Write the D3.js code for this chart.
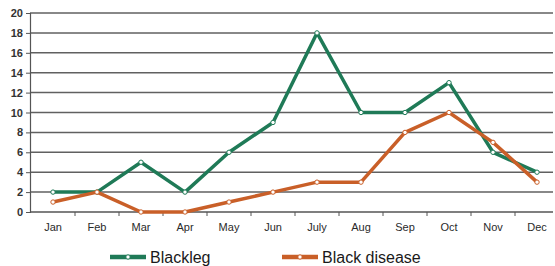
<!DOCTYPE html>
<html>
<head>
<meta charset="utf-8">
<script src="https://cdn.jsdelivr.net/npm/d3@7"></script>
<style>
  body { margin: 0; background: #fff; }
  svg { display: block; font-family: "Liberation Sans", Arial, sans-serif; }
</style>
</head>
<body>
<svg id="chart"></svg>
<script>
const months = ["Jan", "Feb", "Mar", "Apr", "May", "Jun", "July", "Aug", "Sep", "Oct", "Nov", "Dec"];
const blackleg = [2, 2, 5, 2, 6, 9, 18, 10, 10, 13, 6, 4];
const blackDisease = [1, 2, 0, 0, 1, 2, 3, 3, 8, 10, 7, 3];
const yTicks = [0, 2, 4, 6, 8, 10, 12, 14, 16, 18, 20];

const series = [
  { name: "Blackleg", values: blackleg, color: "#1f7a57" },
  { name: "Black disease", values: blackDisease, color: "#c95f28" }
];

const svgWidth = 555, svgHeight = 266;
const svg = d3.select("#chart")
  .attr("width", svgWidth)
  .attr("height", svgHeight);

const x = d3.scalePoint().domain(months).range([53, 537]);
const y = d3.scaleLinear().domain([0, 20]).range([212, 13]);

// gridlines
svg.append("g")
  .selectAll("line")
  .data(yTicks.slice(1))
  .enter().append("line")
  .attr("x1", 30).attr("x2", 553)
  .attr("y1", d => y(d)).attr("y2", d => y(d))
  .attr("stroke", "#606060")
  .attr("stroke-width", 1.5);

// y axis
const yAxis = svg.append("g")
  .attr("transform", "translate(30,0)")
  .call(d3.axisLeft(y).tickValues(yTicks).tickSize(4).tickPadding(3));
yAxis.select(".domain").attr("stroke", "#555").attr("stroke-width", 1.2);
yAxis.selectAll(".tick line").attr("stroke", "#555");
yAxis.selectAll("text")
  .attr("fill", "#333")
  .style("font-size", "11px")
  .style("font-weight", "bold");

// x baseline with ticks between categories
const step = x.step();
svg.append("line")
  .attr("x1", 30).attr("x2", 553)
  .attr("y1", y(0)).attr("y2", y(0))
  .attr("stroke", "#555").attr("stroke-width", 1.5);
svg.append("g")
  .selectAll("line")
  .data(months)
  .enter().append("line")
  .attr("x1", d => x(d) + step / 2).attr("x2", d => x(d) + step / 2)
  .attr("y1", y(0)).attr("y2", y(0) + 4)
  .attr("stroke", "#555");

svg.append("g")
  .selectAll("text")
  .data(months)
  .enter().append("text")
  .attr("x", d => x(d))
  .attr("y", 231)
  .attr("text-anchor", "middle")
  .attr("fill", "#2a2a2a")
  .style("font-size", "11px")
  .text(d => d);

const line = d3.line()
  .x((d, i) => x(months[i]))
  .y(d => y(d));

for (let s of series) {
  svg.append("path")
    .datum(s.values)
    .attr("fill", "none")
    .attr("stroke", s.color)
    .attr("stroke-width", 3.5)
    .attr("stroke-linejoin", "round")
    .attr("d", line);

  svg.append("g")
    .selectAll("circle")
    .data(s.values)
    .enter().append("circle")
    .attr("cx", (d, i) => x(months[i]))
    .attr("cy", d => y(d))
    .attr("r", 2.2)
    .attr("fill", "#fff")
    .attr("stroke", s.color)
    .attr("stroke-width", 1);
}

// legend
const legendX = [110, 282];
series.forEach((s, i) => {
  let g = svg.append("g").attr("transform", "translate(" + legendX[i] + ",257)");
  g.append("line")
    .attr("x1", 0).attr("x2", 36)
    .attr("stroke", s.color)
    .attr("stroke-width", 4.5);
  g.append("circle")
    .attr("cx", 18).attr("r", 2.2)
    .attr("fill", "#fff")
    .attr("stroke", s.color);
  g.append("text")
    .attr("x", 40).attr("y", 6)
    .attr("fill", "#1a1a1a")
    .style("font-size", "16px")
    .text(s.name);
});
</script>
</body>
</html>
